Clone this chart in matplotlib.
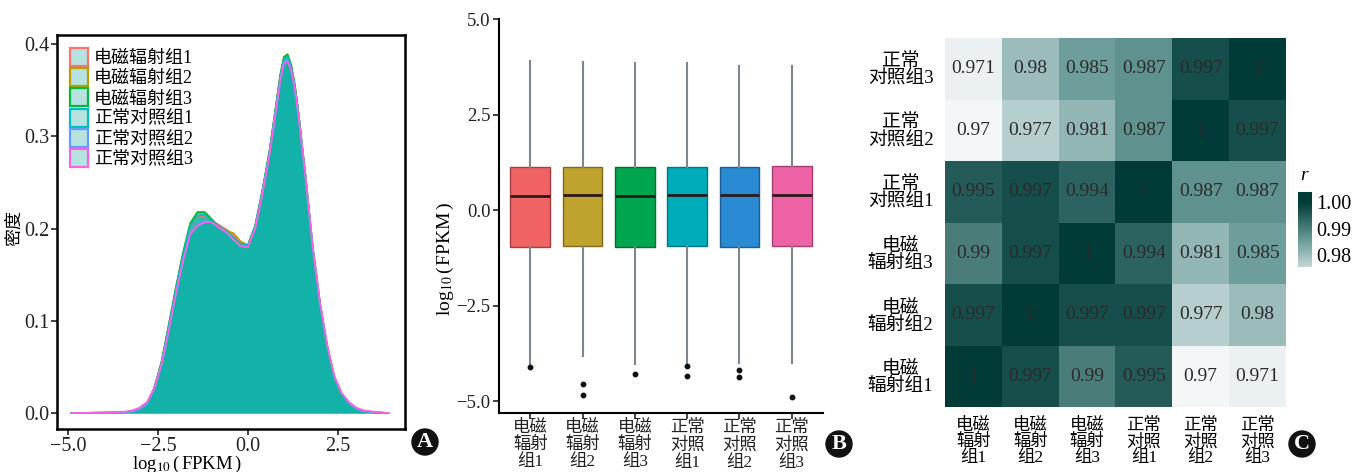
import numpy as np
import matplotlib
matplotlib.use('Agg')
import matplotlib.pyplot as plt
from matplotlib.patches import Patch, Ellipse
from matplotlib.colors import LinearSegmentedColormap, Normalize, to_rgba

plt.rcParams['font.family'] = ['Liberation Serif', 'Noto Sans CJK SC']
plt.rcParams['mathtext.fontset'] = 'stix'

# ---- data ----
groups = ['电磁辐射组1', '电磁辐射组2', '电磁辐射组3',
          '正常对照组1', '正常对照组2', '正常对照组3']
box_labels = ['电磁\n辐射\n组1', '电磁\n辐射\n组2', '电磁\n辐射\n组3',
              '正常\n对照\n组1', '正常\n对照\n组2', '正常\n对照\n组3']
heat_labels = ['电磁\n辐射组1', '电磁\n辐射组2', '电磁\n辐射组3',
               '正常\n对照组1', '正常\n对照组2', '正常\n对照组3']

# density curves (panel A)
dens_x = [-4.9, -4.0, -3.4, -3.2, -3.0, -2.8, -2.6, -2.4, -2.2, -2.0, -1.8,
          -1.6, -1.4, -1.2, -1.0, -0.8, -0.6, -0.4, -0.2, 0.0, 0.2, 0.4,
          0.6, 0.8, 0.9, 1.0, 1.1, 1.2, 1.3, 1.4, 1.6, 1.8, 2.0, 2.2, 2.4,
          2.6, 2.8, 3.0, 3.2, 3.4, 3.6, 3.9]
dens_e1 = [0, 0.0003, 0.001, 0.002, 0.004, 0.010, 0.027, 0.054, 0.093, 0.134, 0.171,
           0.202, 0.213, 0.214, 0.208, 0.204, 0.199, 0.193, 0.184, 0.182, 0.202, 0.240,
           0.283, 0.338, 0.366, 0.385, 0.388, 0.376, 0.355, 0.325, 0.255, 0.178, 0.118, 0.072, 0.038,
           0.020, 0.011, 0.005, 0.002, 0.0012, 0.0005, 0]
dens_e2 = [0, 0.0003, 0.001, 0.002, 0.004, 0.010, 0.027, 0.055, 0.094, 0.135, 0.173,
           0.205, 0.217, 0.217, 0.208, 0.201, 0.198, 0.195, 0.186, 0.182, 0.202, 0.240,
           0.284, 0.339, 0.367, 0.386, 0.389, 0.377, 0.356, 0.326, 0.255, 0.178, 0.118, 0.072, 0.038,
           0.020, 0.011, 0.005, 0.002, 0.0012, 0.0005, 0]
dens_e3 = [0, 0.0003, 0.001, 0.002, 0.004, 0.010, 0.027, 0.055, 0.095, 0.136, 0.174,
           0.206, 0.218, 0.218, 0.210, 0.202, 0.197, 0.190, 0.183, 0.182, 0.203, 0.241,
           0.284, 0.339, 0.367, 0.386, 0.389, 0.377, 0.356, 0.326, 0.256, 0.178, 0.118, 0.072, 0.038,
           0.020, 0.011, 0.005, 0.002, 0.0012, 0.0005, 0]
dens_c1 = [0, 0.0003, 0.001, 0.002, 0.004, 0.010, 0.027, 0.054, 0.093, 0.134, 0.171,
           0.203, 0.214, 0.215, 0.208, 0.202, 0.197, 0.190, 0.183, 0.182, 0.202, 0.240,
           0.283, 0.338, 0.365, 0.384, 0.386, 0.375, 0.354, 0.325, 0.255, 0.178, 0.118, 0.072, 0.038,
           0.020, 0.011, 0.005, 0.002, 0.0012, 0.0005, 0]
dens_c2 = [0, 0.0003, 0.001, 0.002, 0.004, 0.010, 0.026, 0.052, 0.090, 0.130, 0.166,
           0.196, 0.204, 0.208, 0.207, 0.201, 0.196, 0.188, 0.181, 0.180, 0.200, 0.238,
           0.281, 0.336, 0.363, 0.381, 0.383, 0.373, 0.353, 0.324, 0.255, 0.179, 0.119, 0.073, 0.039,
           0.021, 0.011, 0.005, 0.002, 0.0012, 0.0005, 0]
dens_c3 = [0, 0.0005, 0.0015, 0.003, 0.006, 0.012, 0.027, 0.052, 0.089, 0.129, 0.165,
           0.194, 0.203, 0.207, 0.207, 0.201, 0.196, 0.188, 0.181, 0.180, 0.200, 0.237,
           0.280, 0.334, 0.361, 0.379, 0.381, 0.372, 0.352, 0.324, 0.256, 0.180, 0.120, 0.074, 0.040,
           0.022, 0.012, 0.006, 0.003, 0.002, 0.0008, 0]
dens_all = [dens_e1, dens_e2, dens_e3, dens_c1, dens_c2, dens_c3]

# boxplot stats (panel B)
box_med = [0.37, 0.39, 0.37, 0.40, 0.39, 0.40]
box_q1 = [-0.97, -0.95, -0.97, -0.95, -0.96, -0.93]
box_q3 = [1.13, 1.14, 1.13, 1.14, 1.13, 1.15]
box_lo = [-4.02, -3.82, -4.04, -4.00, -4.00, -4.00]
box_hi = [3.90, 3.87, 3.84, 3.84, 3.77, 3.77]
box_out = [[-4.11], [-4.55, -4.84], [-4.29], [-4.08, -4.35], [-4.19, -4.37], [-4.90]]

# correlation matrix (panel C), rows/cols in groups order
corr = [[1, 0.997, 0.99, 0.995, 0.97, 0.971],
        [0.997, 1, 0.997, 0.997, 0.977, 0.98],
        [0.99, 0.997, 1, 0.994, 0.981, 0.985],
        [0.995, 0.997, 0.994, 1, 0.987, 0.987],
        [0.97, 0.977, 0.981, 0.987, 1, 0.997],
        [0.971, 0.98, 0.985, 0.987, 0.997, 1]]

line_colors = ['#F8766D', '#B79F00', '#00BA38', '#00BFC4', '#619CFF', '#F564E3']
box_fill = ['#EF6462', '#C0A22F', '#00A64F', '#00ABBA', '#2A8AD2', '#EE62A6']
box_edge = ['#A4403E', '#7E6A1A', '#046B35', '#047780', '#1A5E95', '#A43E70']
teal = '#00ADA3'
log_label = r'log$_{10}$$\,$($\,$FPKM$\,$)'

W, H = 1364, 472
fig = plt.figure(figsize=(W / 100, H / 100), dpi=100)

def frac(l, t, r, b):
    return [l / W, 1 - b / H, (r - l) / W, (b - t) / H]

# ---- Panel A ----
axA = fig.add_axes(frac(57, 35, 405, 429))
for ys, c in zip(dens_all, line_colors):
    axA.fill_between(dens_x, ys, color=teal, alpha=0.35, lw=0)
    axA.plot(dens_x, ys, color=c, lw=1.3)
axA.set_xlim(-5.3, 4.36)
axA.set_ylim(-0.0173, 0.41)
axA.set_xticks([-5, -2.5, 0, 2.5])
axA.set_xticklabels(['\u22125.0', '\u22122.5', '0.0', '2.5'])
axA.set_yticks([0, 0.1, 0.2, 0.3, 0.4])
axA.set_yticklabels(['0.0', '0.1', '0.2', '0.3', '0.4'])
axA.tick_params(labelsize=14.5, length=4, width=1.2, colors='#222222', pad=1.5)
for s in axA.spines.values():
    s.set_linewidth(1.8)
axA.set_ylabel('密度', fontsize=13)
axA.yaxis.set_label_coords(-0.097, 0.51)
axA.set_xlabel(log_label, fontsize=13.5)
axA.xaxis.set_label_coords(0.374, -0.062)
handles = [Patch(facecolor=to_rgba('#7CCBC6', 0.55), edgecolor=c, lw=1.6) for c in line_colors]
axA.legend(handles, groups, loc='upper left', bbox_to_anchor=(0.0, 1.0), frameon=False,
           fontsize=13, handlelength=1.0, handleheight=1.15, labelspacing=0.07,
           handletextpad=0.35, borderaxespad=0.3)

# ---- Panel B ----
axB = fig.add_axes(frac(499, 19, 823, 413))
stats = []
for i in range(6):
    stats.append(dict(med=box_med[i], q1=box_q1[i], q3=box_q3[i],
                      whislo=box_lo[i], whishi=box_hi[i], fliers=box_out[i]))
bp = axB.bxp(stats, positions=range(6), widths=0.76, patch_artist=True, showcaps=False,
             whiskerprops=dict(color='#7D878D', lw=1.5),
             flierprops=dict(marker='o', ms=3.2, mfc='#111111', mec='#111111'),
             medianprops=dict(lw=2))
for i in range(6):
    bp['boxes'][i].set_facecolor(box_fill[i])
    bp['boxes'][i].set_edgecolor(box_edge[i])
    bp['boxes'][i].set_linewidth(1.0)
    bp['medians'][i].set_color('#2A1A1A')
axB.set_xlim(-0.6, 5.6)
axB.set_ylim(-5.31, 5.0)
axB.set_yticks([-5, -2.5, 0, 2.5, 5])
axB.set_yticklabels(['\u22125.0', '\u22122.5', '0.0', '2.5', '5.0'])
axB.set_xticks(range(6))
axB.set_xticklabels(box_labels, fontsize=12.5, linespacing=1.1)
axB.tick_params(axis='y', labelsize=13.5, pad=2)
axB.tick_params(length=4, width=1.2, colors='#222222')
axB.tick_params(axis='x', pad=1)
axB.spines['top'].set_visible(False)
axB.spines['right'].set_visible(False)
axB.spines['left'].set_linewidth(1.5)
axB.spines['bottom'].set_linewidth(1.5)
axB.set_ylabel(log_label, fontsize=14)
axB.yaxis.set_label_coords(-0.132, 0.39)

# ---- Panel C ----
cmap = LinearSegmentedColormap.from_list('tw', ['#F4F7F8', '#6F9F9C', '#003B38'])
norm = Normalize(vmin=0.97, vmax=1.0)
axC = fig.add_axes(frac(945, 38, 1286, 407))
axC.imshow(np.array(corr), cmap=cmap, norm=norm, origin='lower', aspect='auto')
for i in range(6):
    for j in range(6):
        axC.text(j, i, f'{corr[i][j]:g}', ha='center', va='center', fontsize=14, color='#2A2A2A')
axC.set_xticks(range(6))
axC.set_xticklabels(box_labels, fontsize=12.5, linespacing=1.0)
axC.set_yticks(range(6))
axC.set_yticklabels(heat_labels, fontsize=13.5, linespacing=1.0, ha='center')
axC.tick_params(axis='y', length=0, pad=32)
axC.tick_params(axis='x', length=0, pad=8)
for s in axC.spines.values():
    s.set_visible(False)

cax = fig.add_axes(frac(1298, 192, 1312, 267))
grad = np.linspace(0.9755, 1.0038, 200)[:, None]
cax.imshow(grad, cmap=cmap, norm=norm, origin='lower', aspect='auto',
           extent=(0, 1, 0.9755, 1.0038))
cax.set_xticks([])
cax.yaxis.tick_right()
cax.set_yticks([0.98, 0.99, 1.0])
cax.set_yticklabels(['0.98', '0.99', '1.00'])
cax.tick_params(axis='y', length=0, pad=3, labelsize=14.5)
for s in cax.spines.values():
    s.set_visible(False)
fig.text(1300 / W, 1 - 175 / H, 'r', fontsize=14, style='italic', ha='left', va='center')

# ---- panel letters ----
for letter, cx, cy in [('A', 425, 442), ('B', 839, 444), ('C', 1302, 444)]:
    fig.patches.append(Ellipse((cx / W, 1 - cy / H), 26 / W, 26 / H,
                               transform=fig.transFigure, color='#111111'))
    fig.text(cx / W, 1 - cy / H, letter, color='white', fontsize=16, fontweight='bold',
             ha='center', va='center')

fig.savefig('out.png', dpi=100)
